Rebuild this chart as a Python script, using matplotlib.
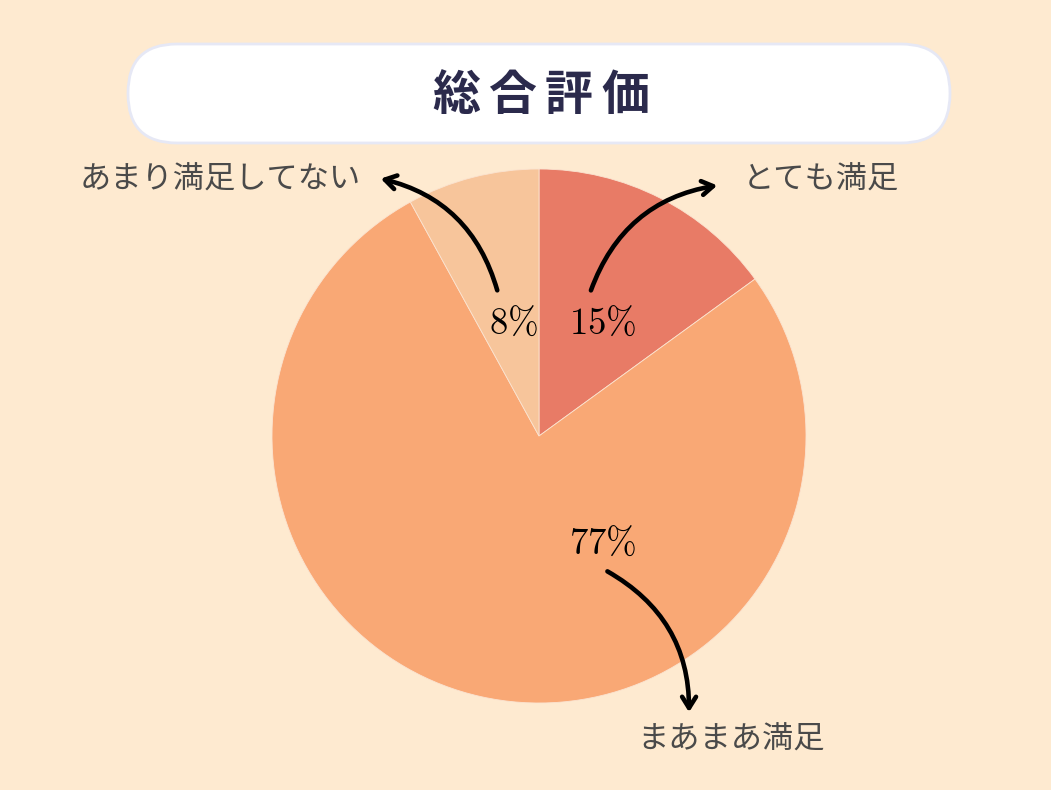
import matplotlib
matplotlib.use("Agg")
import matplotlib.pyplot as plt
from matplotlib.patches import FancyBboxPatch, FancyArrowPatch

plt.rcParams['font.family'] = ['Noto Sans CJK JP', 'DejaVu Sans']
plt.rcParams['mathtext.fontset'] = 'cm'

# データ
labels = ['とても満足', 'まあまあ満足', 'あまり満足してない']
values = [15, 77, 8]
colors = ['#E87B66', '#F9A875', '#F7C59B']
title = '総合評価'

W, H = 1051, 790
BG = '#FEEAD0'

def Y(y):
    '''画像の座標(上から)を下からに変換'''
    return H - y

fig = plt.figure(figsize=(W / 100, H / 100), dpi=100, facecolor=BG)
ax = fig.add_axes([0, 0, 1, 1])
ax.set_facecolor(BG)

ax.pie(values, colors=colors, startangle=90, counterclock=False,
       center=(539, Y(436)), radius=267,
       wedgeprops=dict(edgecolor='#FBE3D0', linewidth=0.6))
ax.set_xlim(0, W)
ax.set_ylim(0, H)
ax.set_aspect('equal')
ax.axis('off')

# タイトルの箱
box = FancyBboxPatch((128, Y(143)), 822, 99,
                     boxstyle="round,pad=0,rounding_size=49",
                     facecolor='white', edgecolor='#E6E8F5', linewidth=2)
ax.add_patch(box)
for i, ch in enumerate(title):
    ax.text(456 + i * 56.3, Y(95), ch, fontsize=34.5, fontweight='bold',
            color='#2B2A4C', ha='center', va='center')

# ラベル: (パーセント位置, 矢印始点, 矢印終点, 文字位置, ha, rad)
layout = [
    ((603, 323), (590, 293), (720, 185), (743, 180), 'left', -0.3),
    ((603, 543), (605, 570), (689, 715), (731, 740), 'center', -0.3),
    ((514, 323), (498, 293), (378, 178), (361, 180), 'right', 0.3),
]

for lab, v, (pp, a0, a1, tp, ha, rad) in zip(labels, values, layout):
    ax.text(pp[0], Y(pp[1]), r'$%d\%%$' % v, fontsize=26.5, color='black',
            ha='center', va='center')
    arr = FancyArrowPatch((a0[0], Y(a0[1])), (a1[0], Y(a1[1])),
                          connectionstyle='arc3,rad=%s' % rad,
                          arrowstyle='->,head_length=8,head_width=5',
                          color='black', linewidth=3.3, mutation_scale=1,
                          capstyle='round', joinstyle='round')
    ax.add_patch(arr)
    ax.text(tp[0], Y(tp[1]), lab, fontsize=22.5, color='#4A4A4A',
            ha=ha, va='center')

fig.savefig('out.png', dpi=100, facecolor=BG)
